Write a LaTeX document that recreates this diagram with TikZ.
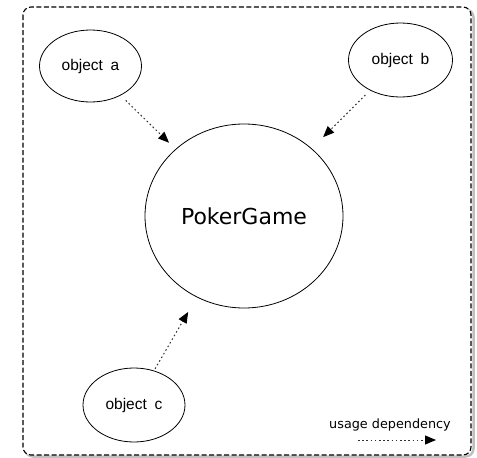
\documentclass[tikz,border=0pt]{standalone}
\usepackage{fontspec}
\setmainfont{Liberation Sans}
\newfontfamily\tahomalike{DejaVu Sans}
\usetikzlibrary{arrows.meta,shapes.geometric}
\definecolor{dep}{HTML}{303030}
\begin{document}
\begin{tikzpicture}[x=1pt,y=-1pt,
  obj/.style={draw=black,line width=0.8pt,ellipse,inner sep=0pt,font=\fontsize{15.5}{17}\selectfont},
  usage/.style={draw=dep,line width=1pt,dash pattern=on 1.6pt off 2.6pt,
    -{Triangle[length=11pt,width=9pt,color=black]}},
  frame/.style={draw=black,line width=1.1pt,dash pattern=on 5pt off 2.5pt,rounded corners=8pt}]
\useasboundingbox (0,0) rectangle (477,458);
% frame shadow
\draw[black!25,line width=2.5pt,rounded corners=8pt] (25,9.5) rectangle (473.5,456.5);
\draw[frame,fill=white] (23,7) rectangle (471,455);
% nodes
\node[obj,minimum width=102pt,minimum height=72pt] (a) at (90.5,66) {object\hspace{0.5em}a};
\node[obj,minimum width=104pt,minimum height=74pt] (b) at (400.5,60) {object\hspace{0.5em}b};
\node[obj,minimum width=102pt,minimum height=74pt] (c) at (134,405) {object\hspace{0.5em}c};
\node[draw=black,line width=0.8pt,ellipse,inner sep=0pt,minimum width=198pt,minimum height=184pt,
  font=\tahomalike\fontsize{22}{24}\selectfont] (pg) at (244,216) {PokerGame};
% dependencies
\draw[usage,shorten <=7pt,shorten >=9pt] (a) -- (pg);
\draw[usage,shorten <=6.5pt,shorten >=16pt] (b) -- (pg);
\draw[usage,shorten <=2pt,shorten >=17pt] (c) -- (pg);
% legend
\node[font=\tahomalike\fontsize{12.8}{14}\selectfont,inner sep=0pt,anchor=base] (lt) at (390,428) {usage dependency};
\coordinate (l1) at (358,440);
\coordinate (l2) at (436,440);
\draw[usage] (l1) -- (l2);
\end{tikzpicture}
\end{document}
